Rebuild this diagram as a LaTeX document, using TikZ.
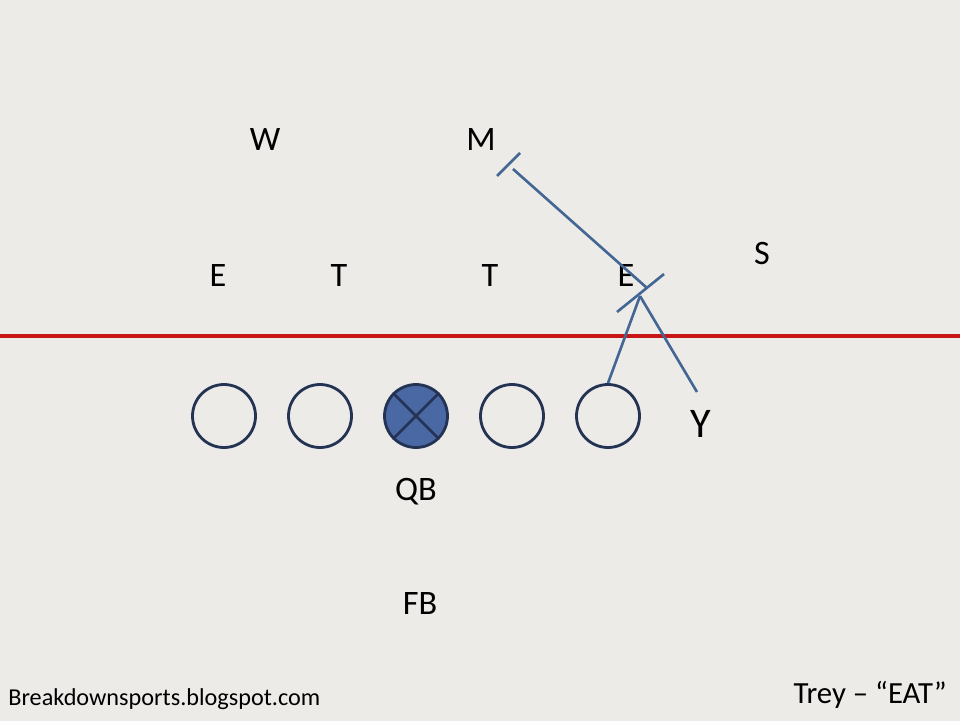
\documentclass[tikz,border=0pt]{standalone}
\usepackage{fontspec}
\setmainfont{Carlito}
\usetikzlibrary{positioning}

\definecolor{slidebg}{RGB}{237,235,232}
\definecolor{losred}{RGB}{200,22,22}
\definecolor{ringnavy}{RGB}{36,50,84}
\definecolor{qbfill}{RGB}{74,104,164}
\definecolor{blockblue}{RGB}{68,102,148}

\begin{document}
\begin{tikzpicture}[
    x=0.02cm, y=-0.02cm,
    lineman/.style={draw=ringnavy, line width=1.6pt, circle, minimum size=1.26cm, inner sep=0pt},
    defender/.style={font=\fontsize{19.5}{21}\selectfont, inner sep=0pt},
    block/.style={draw=blockblue, line width=1.5pt},
    footer/.style={font=\fontsize{13.8}{16}\selectfont, inner sep=0pt}
]
    % Slide background
    \useasboundingbox (0,0) rectangle (960,720);
    \fill[slidebg] (-5,-5) rectangle (965,725);

    % Line of scrimmage
    \draw[losred, line width=2pt] (0,336) -- (960,336);

    % Defense
    \node[defender] (w) at (265,140) {W};
    \node[defender] (m) at (481,140) {M};
    \node[defender] (le) at (218,276) {E};
    \node[defender] (lt) at (339,276) {T};
    \node[defender] (rt) at (490,276) {T};
    \node[defender] (re) at (626,276) {E};
    \node[defender] (s) at (762,253) {S};

    % Offensive line
    \node[lineman] (lt_o) at (224,416) {};
    \node[lineman] (lg_o) at (320,416) {};
    \node[lineman, fill=qbfill] (c_o) at (416,416) {};
    \node[lineman] (rg_o) at (512,416) {};
    \node[lineman] (rt_o) at (608,416) {};
    \draw[ringnavy, line width=1.5pt] (c_o.45) -- (c_o.225);
    \draw[ringnavy, line width=1.5pt] (c_o.135) -- (c_o.315);

    % Backs and tight end
    \node[defender, font=\fontsize{24}{26}\selectfont] (y) at (701,424) {Y};
    \node[defender] (qb) at (416,492) {QB};
    \node[defender] (fb) at (420,604) {FB};

    % Block points
    \coordinate (eblk) at (640,296);
    \coordinate (ystart) at (697,392);

    % Double team on the E, Y climbs to the M
    \draw[block] (rt_o.north) -- (eblk);
    \draw[block] (ystart) -- (eblk);
    \draw[block] (647,288) -- (513,169);
    \draw[block] (617,312) -- (664,274);
    \draw[block] (497,176) -- (520,153);

    % Footer
    \node[footer, anchor=west] (blog) at (8,699) {Breakdownsports.blogspot.com};
    \node[footer, font=\fontsize{17.5}{19}\selectfont, anchor=east] (play) at (947,695) {Trey – “EAT”};
\end{tikzpicture}
\end{document}
